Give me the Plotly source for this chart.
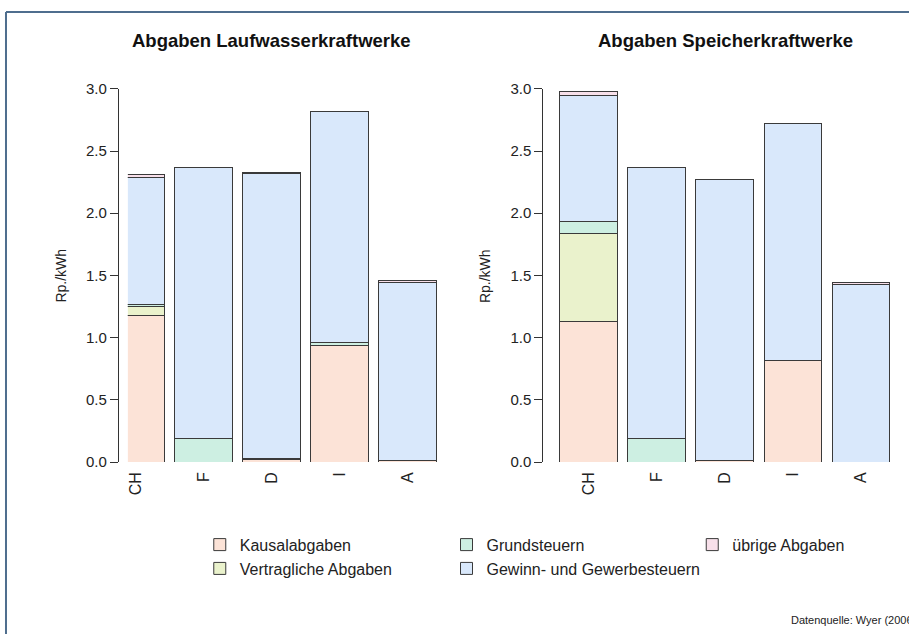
import plotly.graph_objects as go

# ---------------- data ----------------
countries = ["CH", "F", "D", "I", "A"]

series_names = [
    "Kausalabgaben",
    "Vertragliche Abgaben",
    "Grundsteuern",
    "Gewinn- und Gewerbesteuern",
    "übrige Abgaben",
]

# Abgaben Laufwasserkraftwerke (Rp./kWh)
lauf_kausal = [1.18, 0.00, 0.02, 0.94, 0.01]
lauf_vertraglich = [0.07, 0.00, 0.00, 0.00, 0.00]
lauf_grund = [0.02, 0.19, 0.01, 0.02, 0.00]
lauf_gewinn = [1.02, 2.18, 2.29, 1.86, 1.43]
lauf_uebrige = [0.02, 0.00, 0.01, 0.00, 0.02]

# Abgaben Speicherkraftwerke (Rp./kWh)
speicher_kausal = [1.13, 0.00, 0.01, 0.82, 0.00]
speicher_vertraglich = [0.71, 0.00, 0.00, 0.00, 0.00]
speicher_grund = [0.09, 0.19, 0.00, 0.00, 0.00]
speicher_gewinn = [1.02, 2.18, 2.26, 1.90, 1.43]
speicher_uebrige = [0.03, 0.00, 0.00, 0.00, 0.01]

y_ticks = [0.0, 0.5, 1.0, 1.5, 2.0, 2.5, 3.0]
titles = ["Abgaben Laufwasserkraftwerke", "Abgaben Speicherkraftwerke"]
y_label = "Rp./kWh"
source_text = "Datenquelle: Wyer (2006)"

colors = ["#FCE3D7", "#EAF2CC", "#CDEFE2", "#D9E8FB", "#F8E0EA"]
legend_ids = ["legend", "legend", "legend2", "legend2", "legend3"]

lauf = [lauf_kausal, lauf_vertraglich, lauf_grund, lauf_gewinn, lauf_uebrige]
speicher = [speicher_kausal, speicher_vertraglich, speicher_grund,
            speicher_gewinn, speicher_uebrige]

W, H = 909, 634
FONT = "Liberation Sans, Arial, sans-serif"


def px_x(p):
    return p / W


def px_y(p):
    return 1 - p / H


def clean(vals):
    return [v if v > 0 else None for v in vals]


fig = go.Figure()
for i, name in enumerate(series_names):
    fig.add_trace(go.Bar(
        x=countries, y=clean(lauf[i]), name=name,
        marker=dict(color=colors[i], line=dict(color="#3a3a3a", width=1)),
        xaxis="x", yaxis="y", legend=legend_ids[i], showlegend=True,
        hoverinfo="name+y",
    ))
    fig.add_trace(go.Bar(
        x=countries, y=clean(speicher[i]), name=name,
        marker=dict(color=colors[i], line=dict(color="#3a3a3a", width=1)),
        xaxis="x2", yaxis="y2", legend=legend_ids[i], showlegend=False,
        hoverinfo="name+y",
    ))

Y0, Y3 = 465.5, 82          # pixel rows of 0.0 and 3.0
ydom = [px_y(Y0), px_y(Y3)]
# left panel: plot area starts a little right of its y axis line
xdom1 = [px_x(127), px_x(441)]
xdom2 = [px_x(543), px_x(895)]

xaxis_common = dict(
    type="category", showline=False, showgrid=False,
    zeroline=False, ticks="", tickangle=-90,
    tickfont=dict(family=FONT, size=16, color="#222"),
    ticklabelstandoff=6, fixedrange=True,
)
yaxis_common = dict(
    range=[0, 3.0], tickvals=y_ticks,
    ticktext=[f"{v:.1f}" for v in y_ticks],
    showline=True, linecolor="#333", linewidth=1,
    ticks="outside", ticklen=8, tickcolor="#333", tickwidth=1,
    showgrid=False, zeroline=False,
    tickfont=dict(family=FONT, size=15, color="#222"),
    fixedrange=True,
)

legend_common = dict(
    orientation="v", traceorder="normal", bgcolor="rgba(0,0,0,0)",
    font=dict(family=FONT, size=16, color="#222"),
    xanchor="left", yanchor="top", itemclick=False, itemdoubleclick=False,
)

fig.update_layout(
    width=W, height=H,
    margin=dict(l=0, r=0, t=0, b=0),
    paper_bgcolor="white", plot_bgcolor="white",
    barmode="stack", bargap=0.155,
    xaxis=dict(domain=xdom1, anchor="y", range=[-0.11, 4.5], **xaxis_common),
    yaxis=dict(domain=ydom, anchor="free", position=px_x(117),
               **yaxis_common),
    xaxis2=dict(domain=xdom2, anchor="y2", range=[-0.66, 4.5],
                **xaxis_common),
    yaxis2=dict(domain=ydom, anchor="x2", **yaxis_common),
    legend=dict(x=px_x(199), y=px_y(533), **legend_common),
    legend2=dict(x=px_x(446), y=px_y(533), **legend_common),
    legend3=dict(x=px_x(692), y=px_y(533), **legend_common),
    font=dict(family=FONT, color="#222"),
    showlegend=True,
)

annotations = [
    dict(text=f"<b>{titles[0]}</b>", x=px_x(271), y=px_y(32),
         font=dict(family=FONT, size=18.5, color="#111")),
    dict(text=f"<b>{titles[1]}</b>", x=px_x(725), y=px_y(32),
         font=dict(family=FONT, size=18.5, color="#111")),
    dict(text=y_label, x=px_x(60), y=px_y(274), textangle=-90,
         font=dict(family=FONT, size=14, color="#222")),
    dict(text=y_label, x=px_x(484), y=px_y(274), textangle=-90,
         font=dict(family=FONT, size=14, color="#222")),
    dict(text=source_text, x=px_x(789), y=px_y(636), xanchor="left",
         yanchor="bottom", font=dict(family=FONT, size=11, color="#222")),
]
for a in annotations:
    a.setdefault("xanchor", "center")
    a.setdefault("yanchor", "middle")
    a.update(xref="paper", yref="paper", showarrow=False)
fig.update_layout(annotations=annotations)

frame_color = "#4F6E8E"
fig.update_layout(shapes=[
    dict(type="line", xref="paper", yref="paper",
         x0=px_x(5), x1=1.01, y0=px_y(3), y1=px_y(3),
         line=dict(color=frame_color, width=2)),
    dict(type="line", xref="paper", yref="paper",
         x0=px_x(5), x1=px_x(5), y0=-0.05, y1=px_y(3),
         line=dict(color=frame_color, width=2)),
])

fig.write_html(
    "out.html",
    config={"displayModeBar": False},
    post_script="document.body.style.margin='0px';"
                "document.body.style.overflow='hidden';",
)
